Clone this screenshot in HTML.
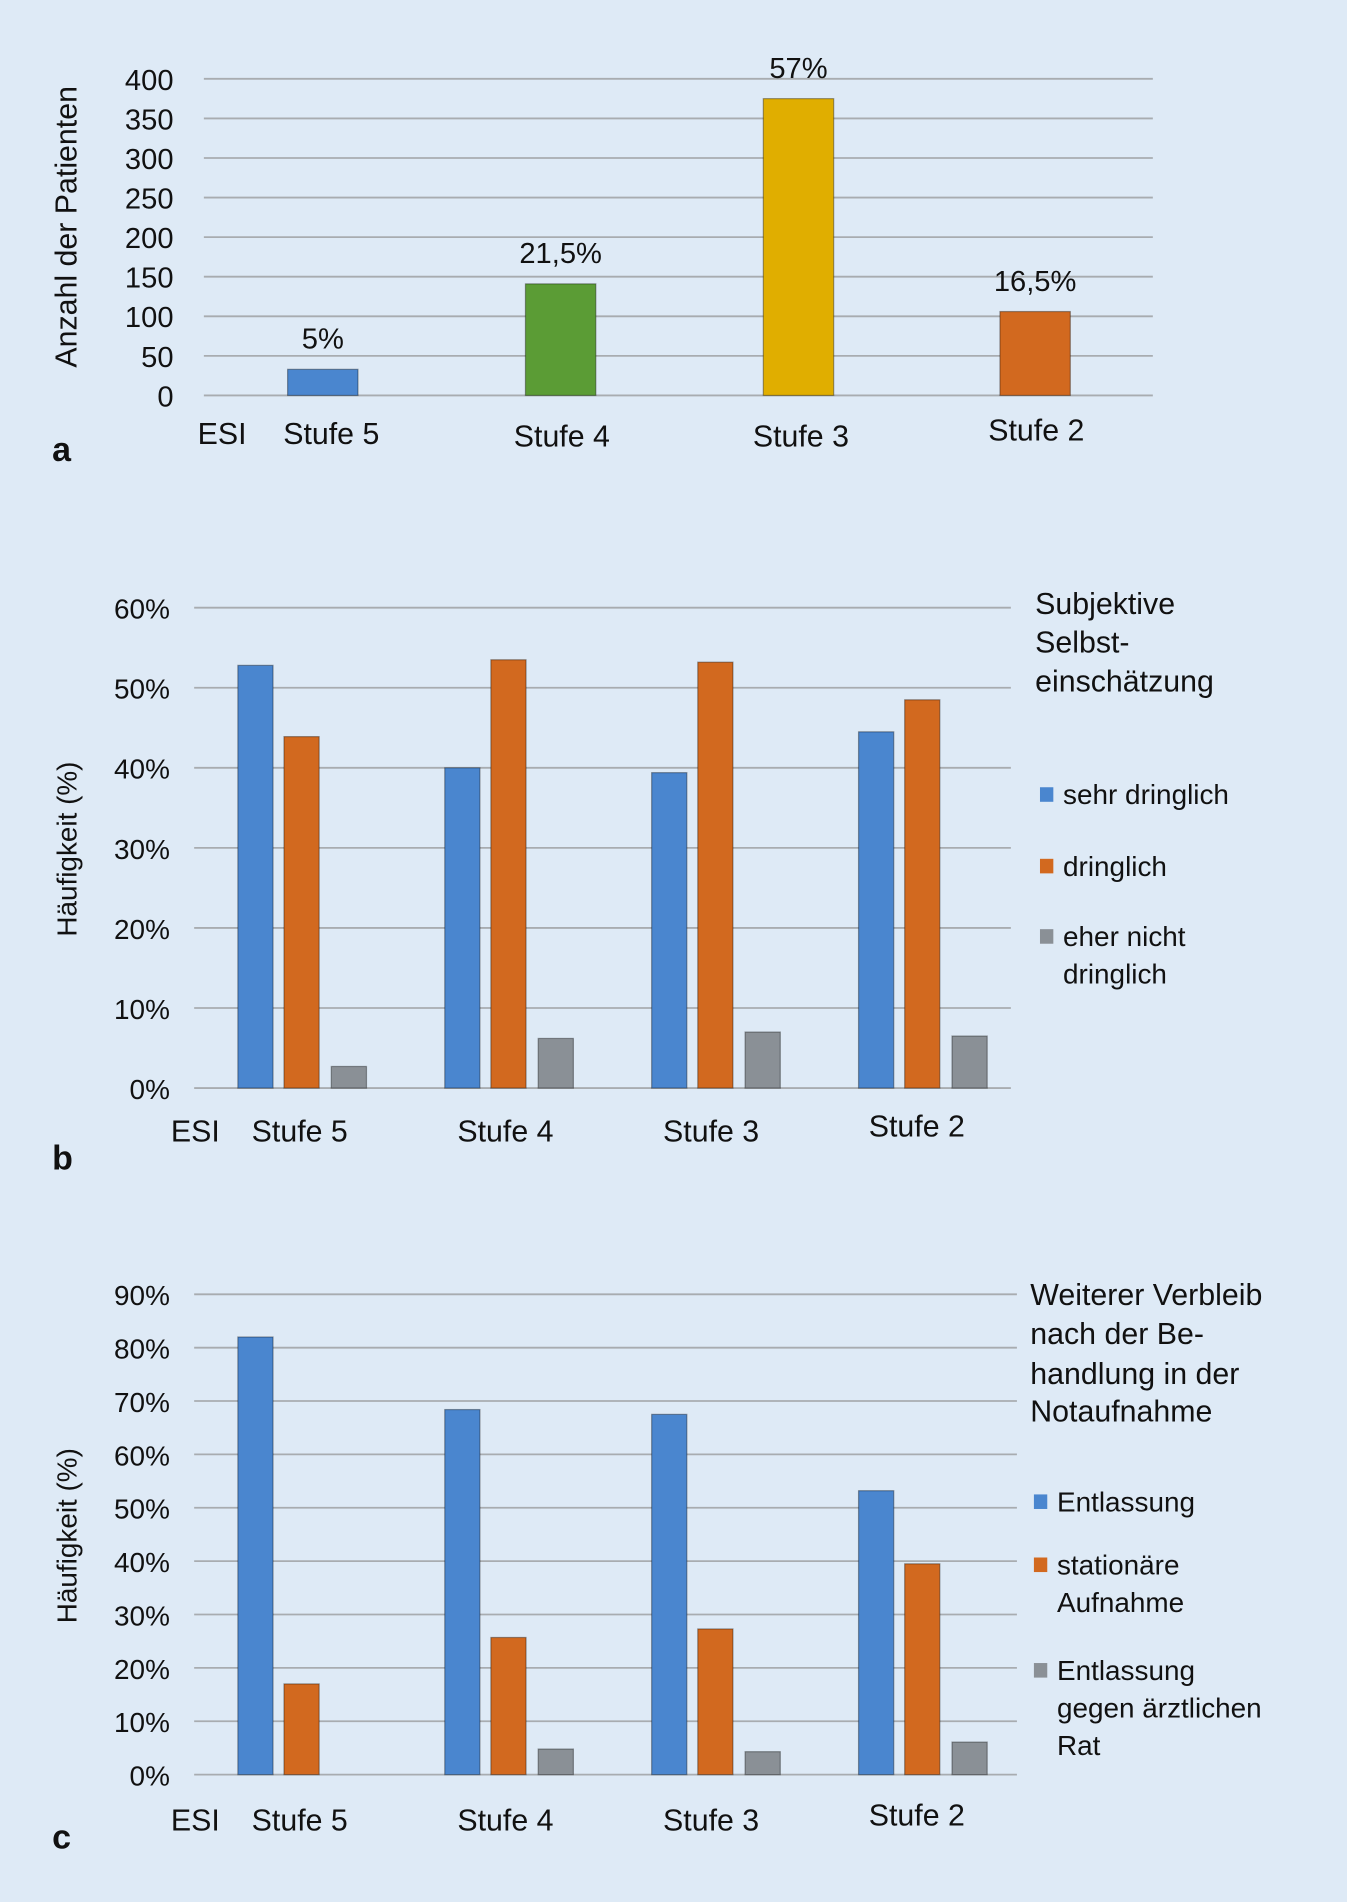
<!DOCTYPE html>
<html><head><meta charset="utf-8"><style>
html,body{margin:0;padding:0;background:#deeaf6;}
svg{display:block;font-family:"Liberation Sans",sans-serif;}
</style></head><body>
<svg id="root" width="1347" height="1902" viewBox="0 0 1110 1568" preserveAspectRatio="none">
<rect x="0" y="0" width="1110" height="1568" fill="#deeaf6"/>
<g id="ca"></g>
<g id="cb"></g>
<g id="cc"></g>
</svg>
<script>
const aCategories=["Stufe 5","Stufe 4","Stufe 3","Stufe 2"];
const aValues=[33,141,375,106];
const aLabels=["5%","21,5%","57%","16,5%"];
const aTicks=[0,50,100,150,200,250,300,350,400];
const bCategories=["Stufe 5","Stufe 4","Stufe 3","Stufe 2"];
const bSehr=[52.8,40,39.4,44.5];
const bDring=[43.9,53.5,53.2,48.5];
const bNicht=[2.7,6.2,7.0,6.5];
const bTicks=[0,10,20,30,40,50,60];
const cCategories=["Stufe 5","Stufe 4","Stufe 3","Stufe 2"];
const cEntl=[82,68.4,67.5,53.2];
const cStat=[17,25.7,27.3,39.5];
const cRat=[0,4.8,4.3,6.1];
const cTicks=[0,10,20,30,40,50,60,70,80,90];

const NS="http://www.w3.org/2000/svg";
function el(p,tag,attrs,text){const e=document.createElementNS(NS,tag);for(const k in attrs)e.setAttribute(k,attrs[k]);if(text!==undefined)e.textContent=text;p.appendChild(e);return e;}
const BLUE="#4a86cf",ORANGE="#d2691f",GRAY="#8a9096",GREEN="#5b9c35",YEL="#e0ae00";

// Chart a
(function(){
const g=document.getElementById('ca');
const y0=326,y1=65,max=400;const y=v=>y0-(y0-y1)*v/max;
aTicks.forEach(t=>{
 const l=el(g,'line',{x1:168,x2:950,y1:y(t),y2:y(t),stroke:"#a8acb0","stroke-width":1.5});
 
 const tx=el(g,'text',{x:143,y:y(t)+9,"text-anchor":"end","font-size":24,fill:"#111"},String(t));
 
});
const cx=[266,462,658,853];const cols=[BLUE,GREEN,YEL,ORANGE];const lx=[273,463,660,854];const ly=[366,368,368,363];
aValues.forEach((v,i)=>{
 const r=el(g,'rect',{x:cx[i]-29,y:y(v),width:58,height:y0-y(v),fill:cols[i],stroke:"rgba(0,0,0,0.35)","stroke-width":1});
 
 const t=el(g,'text',{x:cx[i],y:y(v)-17,"text-anchor":"middle","font-size":24,fill:"#111"},aLabels[i]);
 
 const c=el(g,'text',{x:lx[i],y:ly[i],"text-anchor":"middle","font-size":25,fill:"#111"},aCategories[i]);
 
});
const e=el(g,'text',{x:183,y:366,"text-anchor":"middle","font-size":25,fill:"#111"},"ESI");

const yt=el(g,'text',{transform:"translate(63,187) rotate(-90)","text-anchor":"middle","font-size":25,fill:"#111"},"Anzahl der Patienten");

const p=el(g,'text',{x:43,y:380,"font-size":28,"font-weight":"bold",fill:"#111"},"a");

})();

function grouped(id,s1,s2,s3,cats,ticks,y0,y1,max,gx2,xlabY,panel,panelY,legTitle,legItems){
 const g=document.getElementById(id);const y=v=>y0-(y0-y1)*v/max;
 ticks.forEach(t=>{
  const l=el(g,'line',{x1:160,x2:gx2,y1:y(t),y2:y(t),stroke:"#a8acb0","stroke-width":1.5});
  
  const tx=el(g,'text',{x:140,y:y(t)+9,"text-anchor":"end","font-size":23,fill:"#111"},t+"%");
  
 });
 const series=[s1,s2,s3],cols=[BLUE,ORANGE,GRAY],off=[0,38,77];
 cats.forEach((c,i)=>{
  const bx=196+i*170.5;
  series.forEach((s,k)=>{
   if(s[i]<=0)return;
   const r=el(g,'rect',{x:bx+off[k],y:y(s[i]),width:29,height:y0-y(s[i]),fill:cols[k],stroke:"rgba(0,0,0,0.35)","stroke-width":1});
   
  });
  const t=el(g,'text',{x:bx+51-i*1,y:xlabY-(i==3?4:0),"text-anchor":"middle","font-size":25,fill:"#111"},c);
  
 });
 const e=el(g,'text',{x:161,y:xlabY,"text-anchor":"middle","font-size":25,fill:"#111"},"ESI");
 
 const yt=el(g,'text',{transform:`translate(63,${(y0+y1)/2+1}) rotate(-90)`,"text-anchor":"middle","font-size":23,fill:"#111"},"Häufigkeit  (%)");
 
 const p=el(g,'text',{x:43,y:panelY,"font-size":28,"font-weight":"bold",fill:"#111"},panel);
 
 legTitle.forEach(([txt,x,yy])=>{
  const t=el(g,'text',{x:x,y:yy+9,"font-size":25,fill:"#111"},txt);
  
 });
 legItems.forEach(([k,lines,x,yy])=>{
  const r=el(g,'rect',{x:x,y:yy-6,width:11,height:12,fill:cols[k]});
  
  lines.forEach((ln,j)=>{
   const t=el(g,'text',{x:x+19,y:yy+8+j*31,"font-size":23,fill:"#111"},ln);
   
  });
 });
}
grouped('cb',bSehr,bDring,bNicht,bCategories,bTicks,897,501,60,833,941,"b",964,
 [["Subjektive",853,497],["Selbst-",853,529],["einschätzung",853,561]],
 [[0,["sehr dringlich"],857,655],[1,["dringlich"],857,714],[2,["eher nicht","dringlich"],857,772]]);
grouped('cc',cEntl,cStat,cRat,cCategories,cTicks,1463,1067,90,838,1509,"c",1524,
 [["Weiterer Verbleib",849,1067],["nach der Be-",849,1099],["handlung in der",849,1132],["Notaufnahme",849,1163]],
 [[0,["Entlassung"],852,1238],[1,["stationäre","Aufnahme"],852,1290],[2,["Entlassung","gegen ärztlichen","Rat"],852,1377]]);
</script>
</body></html>
